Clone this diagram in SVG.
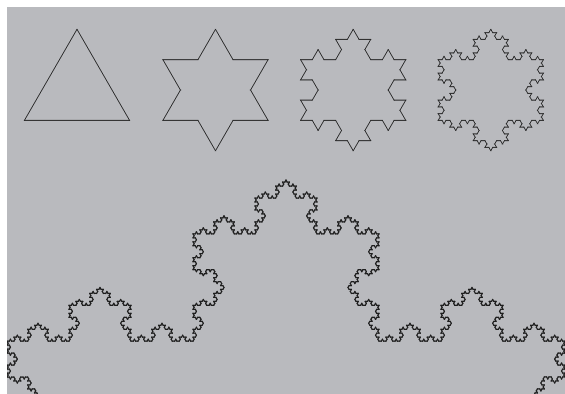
<svg xmlns="http://www.w3.org/2000/svg" xmlns:xlink="http://www.w3.org/1999/xlink" width="565" height="394" viewBox="0 0 565 394">
<style>
.s{fill:none;stroke:#262626;stroke-width:1;stroke-linecap:round;vector-effect:non-scaling-stroke}
.b{fill:none;stroke:#1e1e1e;stroke-width:1.25;stroke-linecap:round;vector-effect:non-scaling-stroke}
</style>
<defs>
<clipPath id="canvas"><rect x="7" y="7" width="558" height="387"/></clipPath>
<path id="k0" class="s" d="M0 0H1" vector-effect="non-scaling-stroke"/>
<path id="b0" class="b" d="M0 0H1" vector-effect="non-scaling-stroke"/>
<g id="k1">
<use href="#k0" transform="scale(0.33333333)"/>
<use href="#k0" transform="translate(0.33333333 0) rotate(-60) scale(0.33333333)"/>
<use href="#k0" transform="translate(0.5 -0.28867513) rotate(60) scale(0.33333333)"/>
<use href="#k0" transform="translate(0.66666667 0) scale(0.33333333)"/>
</g>
<g id="k2">
<use href="#k1" transform="scale(0.33333333)"/>
<use href="#k1" transform="translate(0.33333333 0) rotate(-60) scale(0.33333333)"/>
<use href="#k1" transform="translate(0.5 -0.28867513) rotate(60) scale(0.33333333)"/>
<use href="#k1" transform="translate(0.66666667 0) scale(0.33333333)"/>
</g>
<g id="k3">
<use href="#k2" transform="scale(0.33333333)"/>
<use href="#k2" transform="translate(0.33333333 0) rotate(-60) scale(0.33333333)"/>
<use href="#k2" transform="translate(0.5 -0.28867513) rotate(60) scale(0.33333333)"/>
<use href="#k2" transform="translate(0.66666667 0) scale(0.33333333)"/>
</g>
<g id="b1">
<use href="#b0" transform="scale(0.33333333)"/>
<use href="#b0" transform="translate(0.33333333 0) rotate(-60) scale(0.33333333)"/>
<use href="#b0" transform="translate(0.5 -0.28867513) rotate(60) scale(0.33333333)"/>
<use href="#b0" transform="translate(0.66666667 0) scale(0.33333333)"/>
</g>
<g id="b2">
<use href="#b1" transform="scale(0.33333333)"/>
<use href="#b1" transform="translate(0.33333333 0) rotate(-60) scale(0.33333333)"/>
<use href="#b1" transform="translate(0.5 -0.28867513) rotate(60) scale(0.33333333)"/>
<use href="#b1" transform="translate(0.66666667 0) scale(0.33333333)"/>
</g>
<g id="b3">
<use href="#b2" transform="scale(0.33333333)"/>
<use href="#b2" transform="translate(0.33333333 0) rotate(-60) scale(0.33333333)"/>
<use href="#b2" transform="translate(0.5 -0.28867513) rotate(60) scale(0.33333333)"/>
<use href="#b2" transform="translate(0.66666667 0) scale(0.33333333)"/>
</g>
<g id="b4">
<use href="#b3" transform="scale(0.33333333)"/>
<use href="#b3" transform="translate(0.33333333 0) rotate(-60) scale(0.33333333)"/>
<use href="#b3" transform="translate(0.5 -0.28867513) rotate(60) scale(0.33333333)"/>
<use href="#b3" transform="translate(0.66666667 0) scale(0.33333333)"/>
</g>
<g id="b5">
<use href="#b4" transform="scale(0.33333333)"/>
<use href="#b4" transform="translate(0.33333333 0) rotate(-60) scale(0.33333333)"/>
<use href="#b4" transform="translate(0.5 -0.28867513) rotate(60) scale(0.33333333)"/>
<use href="#b4" transform="translate(0.66666667 0) scale(0.33333333)"/>
</g>
</defs>
<rect x="0" y="0" width="565" height="394" fill="#ffffff"/>
<rect x="7" y="7" width="558" height="387" fill="#b9babe"/>
<g id="flake0">
<use href="#k0" transform="translate(77 29.3) rotate(60) scale(105.2)"/>
<use href="#k0" transform="translate(129.6 120.4) rotate(180) scale(105.2)"/>
<use href="#k0" transform="translate(24.4 120.4) rotate(-60) scale(105.2)"/>
</g>
<g id="flake1">
<use href="#k1" transform="translate(215.5 29.3) rotate(60) scale(105.2)"/>
<use href="#k1" transform="translate(268.1 120.4) rotate(180) scale(105.2)"/>
<use href="#k1" transform="translate(162.9 120.4) rotate(-60) scale(105.2)"/>
</g>
<g id="flake2">
<use href="#k2" transform="translate(353.2 29.3) rotate(60) scale(105.2)"/>
<use href="#k2" transform="translate(405.8 120.4) rotate(180) scale(105.2)"/>
<use href="#k2" transform="translate(300.6 120.4) rotate(-60) scale(105.2)"/>
</g>
<g id="flake3">
<use href="#k3" transform="translate(490.8 29.3) rotate(60) scale(105.2)"/>
<use href="#k3" transform="translate(543.4 120.4) rotate(180) scale(105.2)"/>
<use href="#k3" transform="translate(438.2 120.4) rotate(-60) scale(105.2)"/>
</g>
<g id="bigflake" clip-path="url(#canvas)">
<use href="#b5" transform="translate(7 341.2) scale(558)"/>
<use href="#b5" transform="translate(565 341.2) rotate(120) scale(558)"/>
<use href="#b5" transform="translate(286 824.45) rotate(-120) scale(558)"/>
</g>
</svg>
